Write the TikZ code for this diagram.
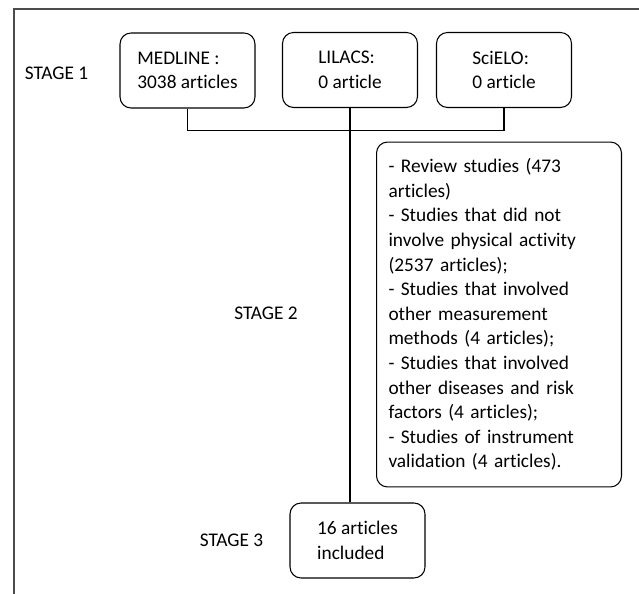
\documentclass[tikz,border=0pt]{standalone}
\usepackage{fontspec}
\setmainfont[Ligatures={NoCommon}]{Carlito}
\usetikzlibrary{positioning}

\begin{document}
\begin{tikzpicture}
            [x=.02cm,y=-.02cm,every node/.style={font=\fontsize{11}{14}\selectfont},
             box/.style={draw, rounded corners=0.22cm, line width=0.6pt, align=left, minimum width=2.7cm, minimum height=1.5cm}]
          \useasboundingbox (0,0) rectangle (639,594);
          \draw[line width=0.6pt, black!70] (14,594) -- (14,9) -- (639,9);

          \node (s1) at (56.5,73) {STAGE 1};
          \node (s2) at (266,313) {STAGE 2};
          \node (s3) at (231.5,540) {STAGE 3};

          \node[box] (med) at (187.5,70.5) {MEDLINE :\\3038 articles};
          \node[box] (lil) at (350,70) {LILACS:\\0 article};
          \node[box] (sci) at (504,70) {SciELO:\\0 article};
          \node[box] (incl) at (357.5,540.5) {16 articles\\included};
          \node[box, text width=4.42cm, inner xsep=0.24cm, minimum height=6.9cm] (excl) at (499,314.5)
            {- Review studies (473\\articles)\\- Studies that did not\\involve physical activity\\(2537 articles);\\- Studies that involved\\other measurement\\methods (4 articles);\\- Studies that involved\\other diseases and risk\\factors (4 articles);\\- Studies of instrument\\validation (4 articles).};

          \draw[line width=0.6pt] (med.south) -- ++(0,22) -| (sci.south);
          \draw[line width=0.6pt] (lil.south) -- (lil.south |- incl.north);
        \end{tikzpicture}
\end{document}
